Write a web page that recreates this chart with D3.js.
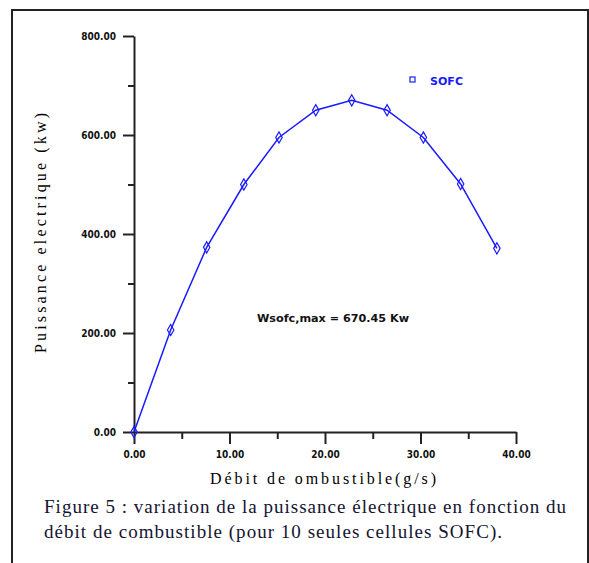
<!DOCTYPE html>
<html>
<head>
<meta charset="utf-8">
<script src="https://d3js.org/d3.v7.min.js"></script>
<style>
  body { margin: 0; background: #fff; }
  svg { display: block; }
  .tick text { font-family: "DejaVu Sans Condensed", "DejaVu Sans", sans-serif; font-weight: bold; font-size: 10px; fill: #111; }
  .serif { font-family: "Liberation Serif", "Times New Roman", "DejaVu Serif", serif; }
</style>
</head>
<body>
<div id="chart"></div>
<script>
// debit de combustible (g/s) and electric power (kW)
var debit = [0, 3.84, 7.61, 11.5, 15.18, 19.03, 22.8, 26.5, 30.3, 34.2, 38.0];
var puissance = [0, 206, 373, 500, 595, 650, 670, 650, 595, 501, 371];
var xTicks = [0, 10, 20, 30, 40];
var xMinor = [5, 15, 25, 35];
var yTicks = [0, 200, 400, 600, 800];
var yMinor = [100, 300, 500, 700];
var captionLines = [
  "Figure 5 : variation de la puissance électrique  en fonction du",
  "débit de combustible (pour 10 seules cellules SOFC)."
];

var W = 589, H = 563;
var svg = d3.select("#chart").append("svg")
  .attr("width", W).attr("height", H);

// outer frame of the figure
svg.append("rect")
  .attr("x", 12).attr("y", 10)
  .attr("width", 576).attr("height", 570)
  .attr("fill", "none").attr("stroke", "#222").attr("stroke-width", 2);

var x = d3.scaleLinear().domain([0, 40]).range([134, 516]);
var y = d3.scaleLinear().domain([0, 800]).range([432, 36]);

// minor ticks first, then major axis on top
svg.append("g").attr("transform", "translate(0,432)")
  .call(d3.axisBottom(x).tickValues(xMinor).tickSize(7).tickFormat(""))
  .call(g => g.select(".domain").remove());
svg.append("g").attr("transform", "translate(134,0)")
  .call(d3.axisLeft(y).tickValues(yMinor).tickSize(6).tickFormat(""))
  .call(g => g.select(".domain").remove());

svg.append("g").attr("transform", "translate(0,432)")
  .call(d3.axisBottom(x).tickValues(xTicks).tickSize(12).tickSizeOuter(0)
    .tickPadding(7).tickFormat(d3.format(".2f")));
svg.append("g").attr("transform", "translate(134,0)")
  .call(d3.axisLeft(y).tickValues(yTicks).tickSize(11).tickSizeOuter(0)
    .tickPadding(7).tickFormat(d3.format(".2f")));

svg.selectAll(".domain").attr("stroke", "#222").attr("stroke-width", 2);
svg.selectAll(".tick line").attr("stroke", "#222").attr("stroke-width", 2);

// axis titles
svg.append("text").attr("class", "serif")
  .attr("transform", "translate(46,233) rotate(-90)")
  .attr("text-anchor", "middle")
  .attr("textLength", 240).attr("lengthAdjust", "spacing")
  .style("font-size", "16px")
  .text("Puissance electrique (kw)");

svg.append("text").attr("class", "serif")
  .attr("x", 210).attr("y", 484)
  .attr("textLength", 226).attr("lengthAdjust", "spacing")
  .style("font-size", "16px")
  .text("Débit de ombustible(g/s)");

// curve
var line = d3.line().x((d, i) => x(debit[i])).y(d => y(d));
svg.append("path")
  .datum(puissance)
  .attr("d", line)
  .attr("fill", "none").attr("stroke", "#1a1aff").attr("stroke-width", 1.5);

svg.selectAll(".pt").data(puissance).enter().append("path")
  .attr("class", "pt")
  .attr("transform", (d, i) => "translate(" + x(debit[i]) + "," + y(d) + ")")
  .attr("d", d3.symbol().type(d3.symbolDiamond).size(36))
  .attr("fill", "none").attr("stroke", "#1a1aff").attr("stroke-width", 1.2);

// legend
svg.append("rect")
  .attr("x", 410).attr("y", 77).attr("width", 5).attr("height", 5)
  .attr("fill", "none").attr("stroke", "#1a1aff").attr("stroke-width", 1.2);
svg.append("text")
  .attr("x", 430).attr("y", 85)
  .attr("textLength", 33).attr("lengthAdjust", "spacingAndGlyphs")
  .style("font-family", "DejaVu Sans Condensed, sans-serif").style("font-weight", "bold")
  .style("font-size", "10px").attr("fill", "#1a1aff")
  .text("SOFC");

// max annotation
svg.append("text")
  .attr("x", 257).attr("y", 322)
  .attr("textLength", 152).attr("lengthAdjust", "spacingAndGlyphs")
  .style("font-family", "DejaVu Sans Condensed, sans-serif").style("font-weight", "bold")
  .style("font-size", "10px").attr("fill", "#111")
  .text("Wsofc,max = 670.45 Kw");

// caption
svg.selectAll(".cap").data(captionLines).enter().append("text")
  .attr("class", "cap serif")
  .attr("x", 44).attr("y", (d, i) => 513 + i * 25)
  .attr("textLength", (d, i) => i === 0 ? 522 : 458).attr("lengthAdjust", "spacing")
  .style("font-size", "19px")
  .attr("fill", "#141430")
  .text(d => d);
</script>
</body>
</html>
